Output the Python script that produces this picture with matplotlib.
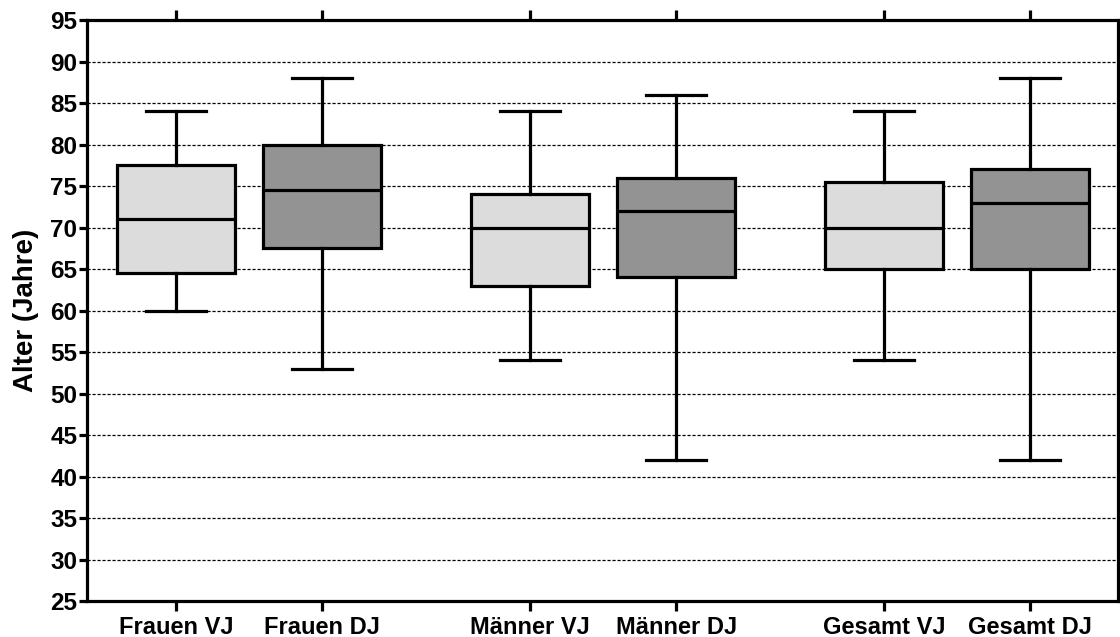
import numpy as np
import matplotlib.pyplot as plt

plt.rcParams['font.family'] = ['Liberation Sans', 'DejaVu Sans']
plt.rcParams['font.weight'] = 'bold'

labels = ['Frauen VJ', 'Frauen DJ', 'Männer VJ', 'Männer DJ', 'Gesamt VJ', 'Gesamt DJ']
whislo = [60, 53, 54, 42, 54, 42]
q1 = [64.5, 67.5, 63, 64, 65, 65]
med = [71, 74.5, 70, 72, 70, 73]
q3 = [77.5, 80, 74, 76, 75.5, 77]
whishi = [84, 88, 84, 86, 84, 88]
colors = ['#dcdcdc', '#939393'] * 3

pos = [0, 1, 2.425, 3.425, 4.85, 5.85]

stats = []
for i in range(len(labels)):
    stats.append({'label': labels[i], 'whislo': whislo[i], 'q1': q1[i], 'med': med[i],
                  'q3': q3[i], 'whishi': whishi[i], 'fliers': []})

fig = plt.figure(figsize=(11.2, 6.37), dpi=100)
ax = fig.add_axes([0.0777, 0.0565, 0.9203, 0.9121])

lw = 2.3
bp = ax.bxp(stats, positions=pos, widths=0.81, patch_artist=True, showfliers=False,
            boxprops=dict(linewidth=lw, edgecolor='black'),
            medianprops=dict(linewidth=lw, color='black'),
            whiskerprops=dict(linewidth=lw, color='black'),
            capprops=dict(linewidth=lw, color='black'),
            capwidths=0.41, zorder=3)
for patch, c in zip(bp['boxes'], colors):
    patch.set_facecolor(c)

ax.set_xlim(-0.61, 6.45)
ax.set_ylim(25, 95)
ax.set_yticks(np.arange(25, 96, 5))
ax.set_xticks(pos)
ax.set_xticklabels(labels)
for y in range(30, 95, 5):
    ax.axhline(y, color='black', lw=0.9, linestyle=(0, (2.5, 1.5)), zorder=1)

for s in ax.spines.values():
    s.set_linewidth(lw)
ax.tick_params(axis='y', direction='out', length=6, width=lw, labelsize=17.5, pad=1)
ax.tick_params(axis='x', direction='out', length=7, width=lw, labelsize=17, top=True, pad=3.5)
for t in ax.get_xticklabels() + ax.get_yticklabels():
    t.set_fontweight('bold')
ax.set_ylabel('Alter (Jahre)', fontsize=20, fontweight='bold', labelpad=8)

fig.savefig('out.png', dpi=100)
